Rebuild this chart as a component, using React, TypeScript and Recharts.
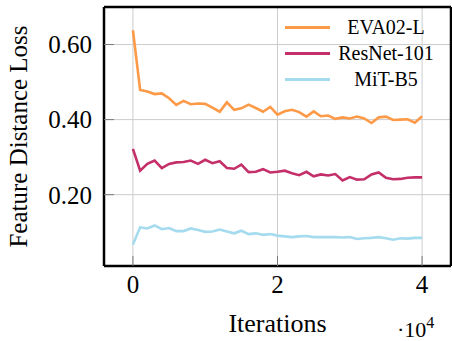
import { CartesianGrid, Legend, Line, LineChart, XAxis, YAxis } from "recharts";

const iterations = [
  0, 1000, 2000, 3000, 4000, 5000, 6000, 7000, 8000, 9000, 10000, 11000, 12000,
  13000, 14000, 15000, 16000, 17000, 18000, 19000, 20000, 21000, 22000, 23000,
  24000, 25000, 26000, 27000, 28000, 29000, 30000, 31000, 32000, 33000, 34000,
  35000, 36000, 37000, 38000, 39000, 40000,
];

const eva02 = [
  0.638, 0.479, 0.475, 0.468, 0.47, 0.457, 0.439, 0.45, 0.441, 0.443, 0.442,
  0.432, 0.421, 0.446, 0.426, 0.43, 0.44, 0.431, 0.421, 0.434, 0.413, 0.422,
  0.426, 0.42, 0.408, 0.422, 0.409, 0.411, 0.402, 0.406, 0.403, 0.408, 0.403,
  0.391, 0.406, 0.408, 0.399, 0.4, 0.401, 0.392, 0.409,
];

const resnet = [
  0.322, 0.264, 0.282, 0.291, 0.271, 0.282, 0.286, 0.287, 0.291, 0.282, 0.293,
  0.284, 0.289, 0.271, 0.269, 0.28, 0.26, 0.261, 0.268, 0.259, 0.261, 0.264,
  0.257, 0.252, 0.261, 0.249, 0.254, 0.251, 0.255, 0.238, 0.247, 0.24, 0.241,
  0.254, 0.259, 0.245, 0.241, 0.242, 0.245, 0.246, 0.246,
];

const mit = [
  0.067, 0.113, 0.11, 0.118, 0.108, 0.111, 0.103, 0.103, 0.11, 0.106, 0.101,
  0.102, 0.107, 0.102, 0.097, 0.104, 0.095, 0.097, 0.093, 0.095, 0.091, 0.089,
  0.087, 0.089, 0.09, 0.087, 0.087, 0.087, 0.087, 0.086, 0.087, 0.082, 0.084,
  0.085, 0.087, 0.084, 0.08, 0.084, 0.083, 0.085, 0.085,
];

const xTicks = [0, 20000, 40000];
const yTicks = [0.2, 0.4, 0.6];

const series = [
  { key: "eva", name: "EVA02-L", color: "#fd9a48" },
  { key: "resnet", name: "ResNet-101", color: "#c42f69" },
  { key: "mit", name: "MiT-B5", color: "#a4dbee" },
];

const data = iterations.map((it, i) => ({
  it,
  eva: eva02[i],
  resnet: resnet[i],
  mit: mit[i],
}));

const font = '"Liberation Serif", "DejaVu Serif", serif';
const tickGray = "#7a7a7a";

function LegendBox() {
  return (
    <div style={{ fontFamily: font, fontSize: 20, color: "#000" }}>
      {series.map((s) => (
        <div
          key={s.key}
          style={{ display: "flex", alignItems: "center", height: 26 }}
        >
          <div style={{ width: 45, height: 3, background: s.color }} />
          <span
            style={{
              width: 100,
              marginLeft: 6,
              textAlign: "center",
              lineHeight: "26px",
            }}
          >
            {s.name}
          </span>
        </div>
      ))}
    </div>
  );
}

function XLabel(props: any) {
  const { x, width } = props.viewBox;
  return (
    <g style={{ fontFamily: font }} fill="#000">
      <text x={x + width / 2} y={332} textAnchor="middle" fontSize={26}>
        Iterations
      </text>
      <text x={397} y={337} fontSize={22}>
        ·10
        <tspan fontSize={16} dy={-9}>
          4
        </tspan>
      </text>
    </g>
  );
}

function YLabel() {
  return (
    <text
      x={27}
      y={136.5}
      transform="rotate(-90, 27, 136.5)"
      textAnchor="middle"
      style={{ fontFamily: font }}
      fontSize={25}
      fill="#000"
    >
      Feature Distance Loss
    </text>
  );
}

const tickStyle = { fontFamily: font, fontSize: 25, fill: "#000" };

export default function App() {
  return (
    <div style={{ fontFamily: font }}>
      <style>{"body{margin:0}"}</style>
      <LineChart
        width={452}
        height={341}
        data={data}
        margin={{ top: 6, right: 0, bottom: 0, left: 103 }}
      >
        <CartesianGrid stroke="#cccccc" strokeWidth={1} />
        <XAxis
          dataKey="it"
          type="number"
          domain={[-4000, 44000]}
          ticks={xTicks}
          interval={0}
          height={75}
          tickFormatter={(v: number) => String(v / 10000)}
          tick={tickStyle}
          tickSize={-10}
          tickMargin={19}
          tickLine={{ stroke: tickGray }}
          axisLine={{ stroke: "#000", strokeWidth: 2.5 }}
          label={<XLabel />}
        />
        <XAxis
          xAxisId="top"
          orientation="top"
          type="number"
          domain={[-4000, 44000]}
          ticks={xTicks}
          interval={0}
          height={1}
          tick={false}
          tickSize={-10}
          tickLine={{ stroke: tickGray }}
          axisLine={{ stroke: "#000", strokeWidth: 2.5 }}
        />
        <YAxis
          type="number"
          domain={[0.01, 0.7]}
          ticks={yTicks}
          interval={0}
          width={1}
          tickFormatter={(v: number) => v.toFixed(2)}
          tick={tickStyle}
          tickSize={-10}
          tickMargin={22}
          tickLine={{ stroke: tickGray }}
          axisLine={{ stroke: "#000", strokeWidth: 2.5 }}
          label={<YLabel />}
        />
        <YAxis
          yAxisId="right"
          orientation="right"
          type="number"
          domain={[0.01, 0.7]}
          ticks={yTicks}
          interval={0}
          width={1}
          tick={false}
          tickSize={-10}
          tickLine={{ stroke: tickGray }}
          axisLine={{ stroke: "#000", strokeWidth: 2.5 }}
        />
        {series.map((s) => (
          <Line
            key={s.key}
            dataKey={s.key}
            name={s.name}
            stroke={s.color}
            strokeWidth={2.6}
            dot={false}
            activeDot={false}
            type="linear"
            isAnimationActive={false}
          />
        ))}
        <Legend
          layout="vertical"
          align="center"
          verticalAlign="middle"
          wrapperStyle={{ left: 285, top: 14, width: 160 }}
          content={<LegendBox />}
        />
      </LineChart>
    </div>
  );
}
